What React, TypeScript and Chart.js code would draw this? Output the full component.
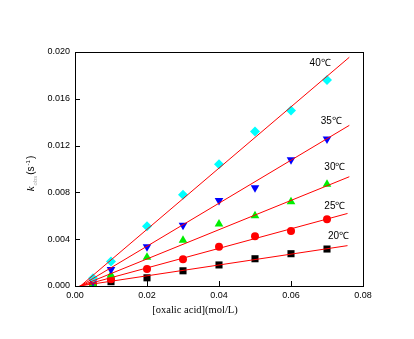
import React, { useEffect, useRef } from "react";
import { Chart, registerables } from "chart.js";

Chart.register(...registerables);

const xVals = [0.005, 0.01, 0.02, 0.03, 0.04, 0.05, 0.06, 0.07];
const k40 = [0.00066, 0.0021, 0.0051, 0.0078, 0.0104, 0.0132, 0.015, 0.0176];
const k35 = [0.00037, 0.0014, 0.00336, 0.0052, 0.0073, 0.0084, 0.0108, 0.01256];
const k30 = [0.00017, 0.00094, 0.00245, 0.0039, 0.0053, 0.006, 0.0072, 0.0087];
const k25 = [0.0001, 0.00057, 0.00145, 0.00228, 0.00336, 0.00425, 0.0047, 0.0057];
const k20 = [0.00005, 0.00037, 0.0007, 0.0013, 0.0018, 0.00233, 0.00276, 0.00316];

const seriesLabels = ["40℃", "35℃", "30℃", "25℃", "20℃"];
const fitStartX = [0.0015, 0.0015, 0.0015, 0.0015, 0.0012];
const fitEndX = [0.0762, 0.0762, 0.0762, 0.0757, 0.0757];
const fitEndY = [0.01955, 0.01373, 0.00934, 0.0062, 0.00345];
const labelX = [0.0681, 0.0712, 0.0722, 0.0722, 0.0732];
const labelY = [0.01906, 0.0141, 0.01013, 0.00684, 0.00427];

const xTicksMax = 0.08;
const yTicksMax = 0.02;

const seriesValues = [k40, k35, k30, k25, k20];
const colors = ["#00ffff", "#0000ff", "#00ee00", "#ff0000", "#000000"];
const shapes = ["rectRot", "triangle", "triangle", "circle", "rect"];
const rotations = [0, 180, 0, 0, 0];
const radii = [5, 5, 5, 4, 5];

const L = 75, R = 363, T = 52, B = 286;

const decor = {
  id: "decor",
  afterDraw(chart: any) {
    const ctx = chart.ctx;
    const xs = chart.scales.x;
    const ys = chart.scales.y;
    const ca = chart.chartArea;
    ctx.save();
    ctx.strokeStyle = "#000";
    ctx.lineWidth = 1;
    ctx.strokeRect(Math.round(ca.left) + 0.5, Math.round(ca.top) + 0.5, Math.round(ca.right - ca.left), Math.round(ca.bottom - ca.top));
    ctx.beginPath();
    for (const t of xs.ticks) {
      const px = Math.round(xs.getPixelForValue(t.value)) + 0.5;
      ctx.moveTo(px, ca.bottom);
      ctx.lineTo(px, ca.bottom - 5);
    }
    for (const t of ys.ticks) {
      const py = Math.round(ys.getPixelForValue(t.value)) + 0.5;
      ctx.moveTo(ca.left, py);
      ctx.lineTo(ca.left + 5, py);
    }
    ctx.stroke();

    // series labels
    ctx.fillStyle = "#000";
    ctx.font = "10px 'Liberation Sans', Arial, sans-serif";
    ctx.textAlign = "center";
    ctx.textBaseline = "middle";
    seriesLabels.forEach((s, i) => {
      ctx.fillText(s, xs.getPixelForValue(labelX[i]), ys.getPixelForValue(labelY[i]));
    });

    // x title
    ctx.font = "10.5px 'Liberation Serif', 'Times New Roman', serif";
    ctx.fillText("[oxalic acid](mol/L)", 195, 310);

    // y title
    ctx.translate(30, 173);
    ctx.rotate(-Math.PI / 2);
    const parts = [
      { t: "k", f: "italic 11px 'Liberation Serif', serif", dy: 0, c: "#000" },
      { t: "obs", f: "6px 'Liberation Sans', sans-serif", dy: 3, c: "#aaaaaa" },
      { t: "(s", f: "10px 'Liberation Sans', sans-serif", dy: 0, c: "#000" },
      { t: "-1", f: "6px 'Liberation Sans', sans-serif", dy: -4, c: "#000" },
      { t: ")", f: "10px 'Liberation Sans', sans-serif", dy: 0, c: "#000" },
    ];
    let total = 0;
    const widths = parts.map((p) => {
      ctx.font = p.f;
      const w = ctx.measureText(p.t).width + 1;
      total += w;
      return w;
    });
    let x = -total / 2;
    ctx.textAlign = "left";
    ctx.textBaseline = "alphabetic";
    parts.forEach((p, i) => {
      ctx.font = p.f;
      ctx.fillStyle = p.c;
      ctx.fillText(p.t, x, 4 + p.dy);
      x += widths[i];
    });
    ctx.restore();
  },
};

export default function App() {
  const ref = useRef<HTMLCanvasElement>(null);
  useEffect(() => {
    if (!ref.current) return;
    const lineSets = seriesLabels.map((s, i) => ({
      type: "line" as const,
      label: s + " fit",
      data: [
        { x: fitStartX[i], y: 0 },
        { x: fitEndX[i], y: fitEndY[i] },
      ],
      borderColor: "#ff0000",
      borderWidth: 1,
      pointRadius: 0,
      showLine: true,
      fill: false,
    }));
    const pointSets = seriesLabels.map((s, i) => ({
      type: "scatter" as const,
      label: s,
      data: xVals.map((x, j) => ({ x, y: seriesValues[i][j] })),
      backgroundColor: colors[i],
      borderColor: colors[i],
      borderWidth: 0,
      pointStyle: shapes[i],
      rotation: rotations[i],
      pointRadius: radii[i],
      showLine: false,
    }));
    const chart = new Chart(ref.current, {
      type: "scatter",
      data: { datasets: [...lineSets, ...pointSets] as any },
      options: {
        animation: false,
        responsive: false,
        layout: { padding: { left: 0, top: T, right: 414 - R, bottom: 0 } },
        plugins: { legend: { display: false }, tooltip: { enabled: false } },
        scales: {
          x: {
            type: "linear",
            min: 0,
            max: xTicksMax,
            ticks: {
              stepSize: 0.02,
              padding: 4,
              color: "#000",
              font: { family: "'Liberation Sans', Arial, sans-serif", size: 9 },
              callback: (v: any) => Number(v).toFixed(2),
            },
            grid: { display: false, drawTicks: false },
            border: { display: false },
            afterFit: (s: any) => { s.height = 339 - B; },
          },
          y: {
            type: "linear",
            min: 0,
            max: yTicksMax,
            ticks: {
              stepSize: 0.004,
              padding: 5,
              color: "#000",
              font: { family: "'Liberation Sans', Arial, sans-serif", size: 9 },
              callback: (v: any) => Number(v).toFixed(3),
            },
            grid: { display: false, drawTicks: false },
            border: { display: false },
            afterFit: (s: any) => { s.width = L; },
          },
        },
      },
      plugins: [decor],
    });
    return () => chart.destroy();
  }, []);
  return (
    <div style={{ position: "fixed", left: 0, top: 0, width: 414, height: 339, background: "#fff" }}>
      <canvas ref={ref} width={414} height={339} />
    </div>
  );
}
